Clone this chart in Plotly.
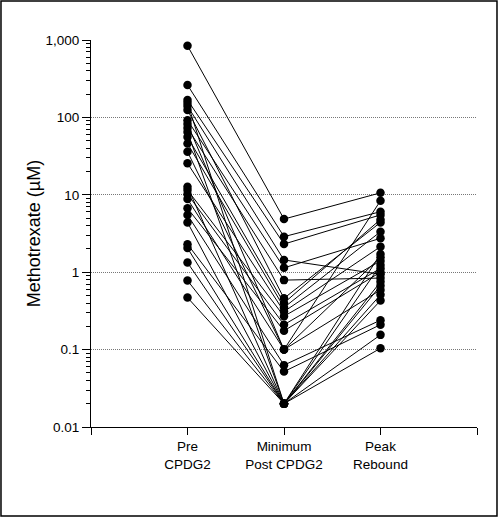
import plotly.graph_objects as go

categories = ["Pre<br>CPDG2", "Minimum<br>Post CPDG2", "Peak<br>Rebound"]

pre_cpdg2 = [843, 262, 168, 153, 140, 125, 92, 82, 73, 65, 56, 46, 36, 25.5,
             12.7, 11.5, 10.2, 8.8, 6.7, 5.5, 4.4, 2.3, 2.05, 1.33, 0.78, 0.47]
min_post = [4.86, 2.88, 2.31, 0.02, 1.44, 0.46, 1.14, 0.1, 0.79, 0.02, 0.40, 0.35, 0.1,
            0.31, 0.02, 0.27, 0.21, 0.1, 0.175, 0.063, 0.02, 0.052, 0.02, 0.02, 0.02, 0.02]
peak_rebound = [10.6, 6.05, 5.5, 1.72, 0.94, 4.4, 2.74, 8.4, 0.84, 1.24, 4.8, 3.34, 1.56,
                2.14, 0.75, 1.4, 1.12, 0.59, 1.0, 0.24, 0.67, 0.21, 0.51, 0.43, 0.155, 0.104]

y_tickvals = [0.01, 0.1, 1, 10, 100, 1000]
y_ticktext = ["0.01", "0.1", "1", "10", "100", "1,000"]
x_tickvals = [0, 1, 2, 3, 4]
x_ticktext = [""] + categories + [""]

FONT = "Liberation Sans, Arial, sans-serif"

fig = go.Figure()
for a, b, c in zip(pre_cpdg2, min_post, peak_rebound):
    fig.add_trace(go.Scatter(
        x=[1, 2, 3], y=[a, b, c], mode="lines+markers",
        line=dict(color="black", width=1),
        marker=dict(color="black", size=8.5),
        showlegend=False, hoverinfo="skip"))

fig.update_layout(
    width=500, height=518,
    margin=dict(l=91, r=23, t=40, b=91, autoexpand=False),
    paper_bgcolor="white", plot_bgcolor="white",
    font=dict(family=FONT, color="black", size=13.5),
    xaxis=dict(range=[0, 4], tickvals=x_tickvals, ticktext=x_ticktext,
               showline=True, linecolor="black", linewidth=1,
               ticks="outside", ticklen=7, tickcolor="black",
               showgrid=False, zeroline=False, automargin=False,
               tickfont=dict(size=13.5, family=FONT)),
    yaxis=dict(type="log", range=[-2, 3], tickvals=y_tickvals, ticktext=y_ticktext,
               showline=True, linecolor="black", linewidth=1,
               ticks="outside", ticklen=8, tickcolor="black",
               showgrid=True, gridcolor="#777", griddash="1px,1px", gridwidth=1,
               zeroline=False, automargin=False,
               minor=dict(ticks="outside", ticklen=4, tickcolor="black",
                          dtick="D1", showgrid=False),
               tickfont=dict(size=13.5, family=FONT),
               title=dict(text="Methotrexate (µM)", font=dict(size=18, family=FONT),
                          standoff=0)),
    shapes=[dict(type="rect", xref="paper", yref="paper",
                 x0=-0.2332, x1=1.0518, y0=-0.23, y1=1.1008,
                 line=dict(color="black", width=1.5), layer="above")],
)

fig.write_html("out.html", config={"displayModeBar": False},
               post_script="document.body.style.margin='0';")
